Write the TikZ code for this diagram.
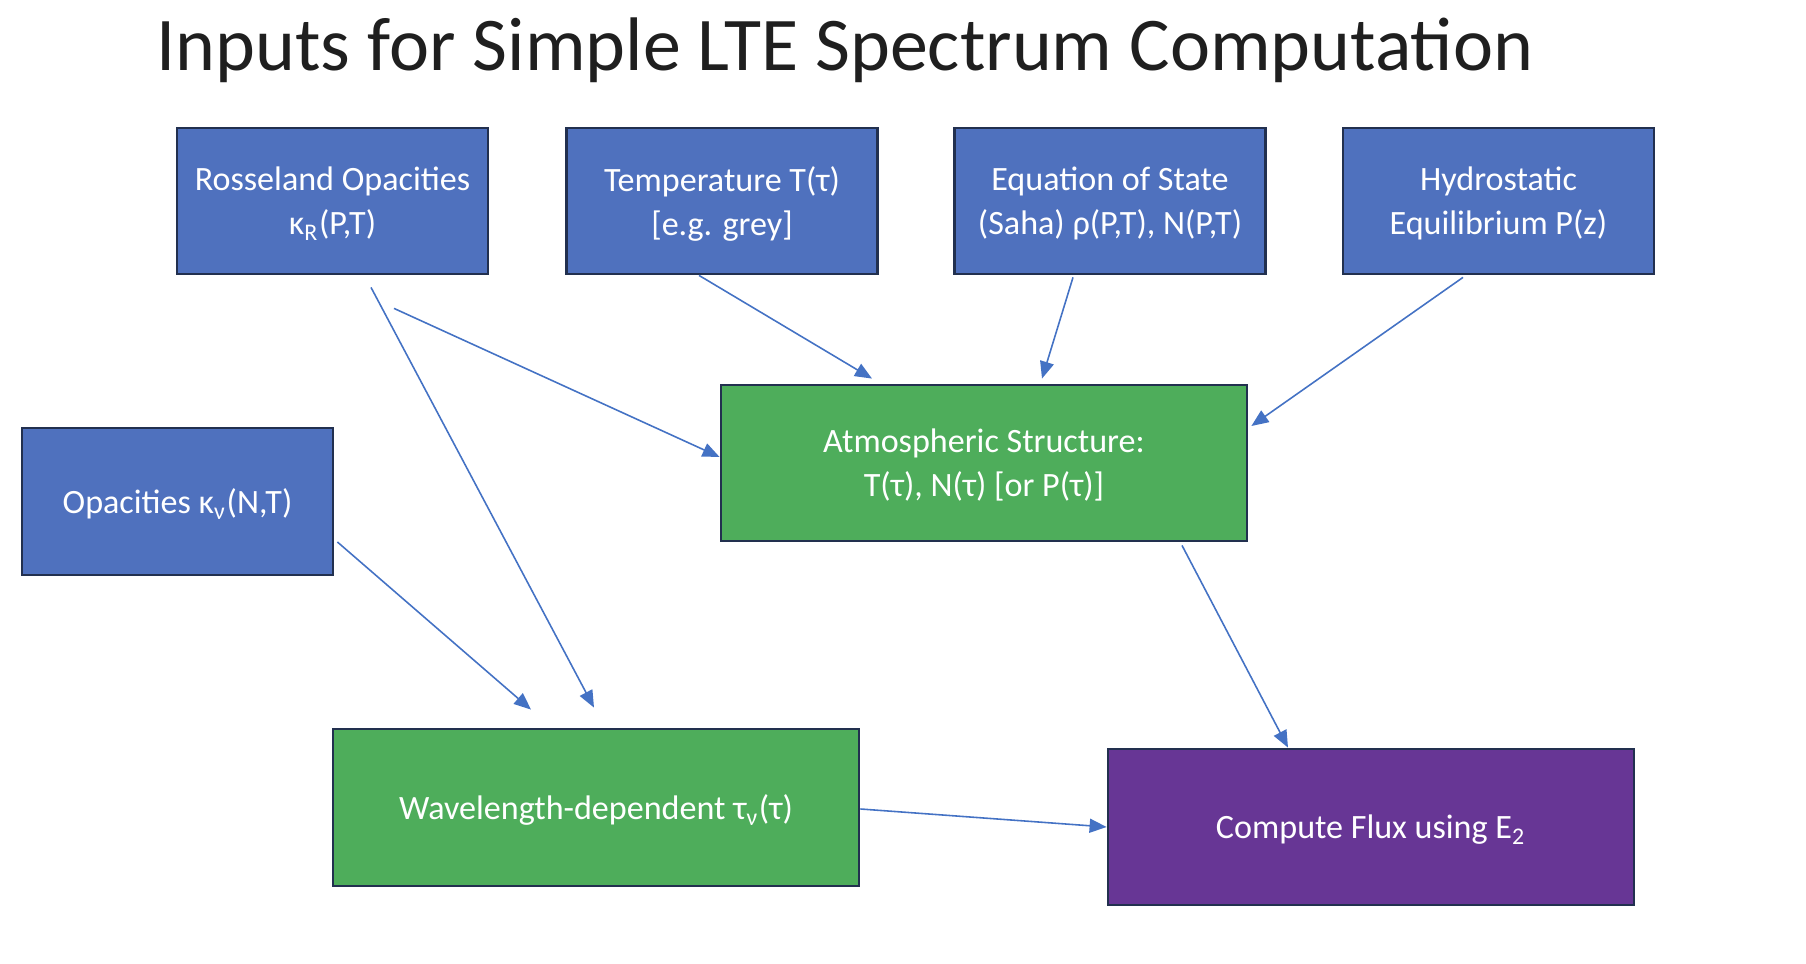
\documentclass[tikz,border=0pt]{standalone}
\usepackage{fontspec}
\setmainfont{Carlito}
\usetikzlibrary{positioning, arrows.meta, calc}

\definecolor{boxblue}{HTML}{4F71BE}
\definecolor{boxgreen}{HTML}{4EAD5B}
\definecolor{boxpurple}{HTML}{673695}
\definecolor{boxedge}{HTML}{22304F}
\definecolor{arrowblue}{HTML}{4472C4}

\begin{document}
\begin{tikzpicture}[
		>={Triangle[length=1.7mm, width=1.4mm]},
		% Input boxes (top row and left)
		inbox/.style={
				rectangle, draw=boxedge, line width=0.8pt,
				fill=boxblue, text=white, minimum width=3.11cm, minimum height=1.46cm,
				font=\fontsize{9.7}{12.5}\selectfont, align=center, inner sep=2pt,
				text depth=-0.4pt
			},
		% Wide process boxes
		procbox/.style={
				rectangle, draw=boxedge, line width=0.8pt,
				fill=#1, text=white, minimum width=5.26cm, minimum height=1.56cm,
				font=\fontsize{9.7}{12.5}\selectfont, align=center, inner sep=2pt,
				text depth=-0.4pt
			},
		% Arrows
		arrowflow/.style={->, line width=0.45pt, draw=arrowblue, fill=arrowblue}
	]

	% fixed page size
	\useasboundingbox (0,0) rectangle (18.06,9.64);

	% ==========================================
	% 1. TITLE
	% ==========================================
	\node[font=\fontsize{21.6}{26}\selectfont, text=black!88] (title) at (8.45, 9.14)
	{Inputs for Simple LTE Spectrum Computation};

	% ==========================================
	% 2. INPUT BOXES (TOP ROW, Y=7.63)
	% ==========================================
	\node[inbox] (rosseland) at (3.325, 7.63) {Rosseland Opacities\\κ\textsubscript{R}(P,T)};
	\node[inbox] (temperature) at (7.22, 7.63) {Temperature T(τ)\\{}[e.g. grey]};
	\node[inbox] (eos) at (11.10, 7.63) {Equation of State\\(Saha) ρ(P,T), N(P,T)};
	\node[inbox] (hydro) at (14.985, 7.63) {Hydrostatic\\Equilibrium P(z)};

	% Left input
	\node[inbox, minimum height=1.47cm] (opacities) at (1.775, 4.625) {Opacities κ\textsubscript{ν}(N,T)};

	% ==========================================
	% 3. PROCESS BOXES
	% ==========================================
	\node[procbox=boxgreen] (atmos) at (9.84, 5.01) {Atmospheric Structure:\\T(τ), N(τ) [or P(τ)]};
	\node[procbox=boxgreen, minimum height=1.57cm] (wavedep) at (5.96, 1.565) {Wavelength-dependent τ\textsubscript{ν}(τ)};
	\node[procbox=boxpurple] (flux) at (13.71, 1.37) {Compute Flux using E\textsubscript{2}};

	% ==========================================
	% 4. ARROWS
	% ==========================================

	% Into the atmospheric structure
	\draw[arrowflow] ([xshift=0.615cm, yshift=-0.33cm]rosseland.south) -- ([yshift=0.06cm]atmos.west);
	\draw[arrowflow] ([xshift=-0.23cm]temperature.south) -- ([xshift=-1.12cm, yshift=0.05cm]atmos.north);
	\draw[arrowflow] ([xshift=-0.37cm, yshift=-0.02cm]eos.south) -- ([xshift=0.58cm, yshift=0.05cm]atmos.north);
	\draw[arrowflow] ([xshift=-0.355cm, yshift=-0.02cm]hydro.south) -- ([xshift=0.03cm, yshift=0.37cm]atmos.east);

	% Into the wavelength-dependent optical depth
	\draw[arrowflow] ([xshift=0.385cm, yshift=-0.12cm]rosseland.south) -- ([xshift=-0.02cm, yshift=0.2cm]wavedep.north);
	\draw[arrowflow] ([xshift=0.03cm, yshift=-0.405cm]opacities.east) -- ([xshift=-0.65cm, yshift=0.18cm]wavedep.north);

	% Into the flux computation
	\draw[arrowflow] ([xshift=1.98cm, yshift=-0.03cm]atmos.south) -- ([xshift=-0.83cm]flux.north);
	\draw[arrowflow] ([yshift=-0.015cm]wavedep.east) -- (flux.west);

\end{tikzpicture}
\end{document}
